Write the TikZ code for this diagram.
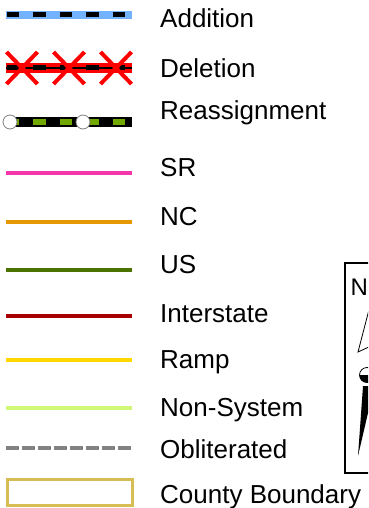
\documentclass[tikz,border=0pt]{standalone}
\usepackage{fontspec}
\setmainfont{Liberation Sans}

\definecolor{addblue}{HTML}{73B2FF}
\definecolor{reassgreen}{HTML}{70A800}
\definecolor{srpink}{HTML}{F535AA}
\definecolor{ncorange}{HTML}{E69800}
\definecolor{usgreen}{HTML}{4C7300}
\definecolor{interred}{HTML}{A80000}
\definecolor{rampyellow}{HTML}{FFD800}
\definecolor{nonsysgreen}{HTML}{D1F777}
\definecolor{oblgray}{HTML}{828282}
\definecolor{countytan}{HTML}{D6BE55}

\tikzset{
  legendtext/.style={anchor=base west, inner sep=0pt, font=\fontsize{26bp}{30bp}\selectfont},
  sample/.style={line width=4bp},
  dashrun/.style={dash pattern=on 12.5bp off 14bp},
}

\begin{document}
\begin{tikzpicture}[x=1bp, y=-1bp]
    \useasboundingbox (0,0) rectangle (368,508);
    \clip (0,0) rectangle (368,508);

    % addition
    \draw[addblue, line width=8bp] (6,15) -- (132,15);
    \draw[black, line width=5bp, dashrun] (6.5,15) -- (132,15);

    % deletion
    \draw[red, line width=9.5bp] (6,68) -- (132,68);
    \draw[black, line width=1.5bp] (6,68) -- (132,68);
    \draw[black, line width=5bp, dashrun] (6.5,68) -- (132,68);
    \foreach \x in {22,69,116}
    \draw[red, line width=4bp] (\x-15.5,52) -- (\x+15.5,84) (\x-15.5,84) -- (\x+15.5,52);

    % reassignment
    \draw[black, line width=10bp] (6,122) -- (132,122);
    \draw[reassgreen, line width=6.5bp, dashrun] (6.5,122) -- (132,122);
    \foreach \x in {10,83}
    \draw[gray, fill=white, line width=0.8bp] (\x,122) circle (7bp);

    % road classes
    \foreach \y/\c in {172.7/srpink, 221.7/ncorange, 270.3/usgreen, 315.7/interred, 360/rampyellow, 408/nonsysgreen}
    \draw[\c, sample] (6,\y) -- (132,\y);

    \draw[oblgray, sample, dash pattern=on 12.5bp off 3.5bp] (6,447.7) -- (132,447.7);
    \draw[countytan, line width=3bp] (7,479.5) rectangle (132,505.5);

    % labels
    \foreach \n/\b/\t in {addition/28/Addition, deletion/78/Deletion, reassignment/120/Reassignment,
      sr/177/SR, nc/225/NC, us/273/US, interstate/322/Interstate, ramp/368/Ramp,
      nonsystem/416/Non-System, obliterated/458/Obliterated, county/503/County Boundary}
    \node[legendtext] (\n) at (160,\b) {\t};

    % north arrow
    \draw[line width=1.8bp] (345,263) rectangle (380,473);
    \node[anchor=base west, inner sep=0pt, font=\fontsize{24bp}{28bp}\selectfont] (north) at (350.3,295) {N};
    \draw[line width=0.8bp, fill=white] (371,302) -- (358,352) -- (371,346);
    \draw[line width=0.8bp] (367,375) circle (7.5bp);
    \begin{scope}
      \clip (358,375) rectangle (376,384);
      \fill (367,375) circle (7.5bp);
    \end{scope}
    \fill (363,386) -- (371,386) -- (371,400) -- (358,456) -- cycle;

  \end{tikzpicture}
\end{document}
